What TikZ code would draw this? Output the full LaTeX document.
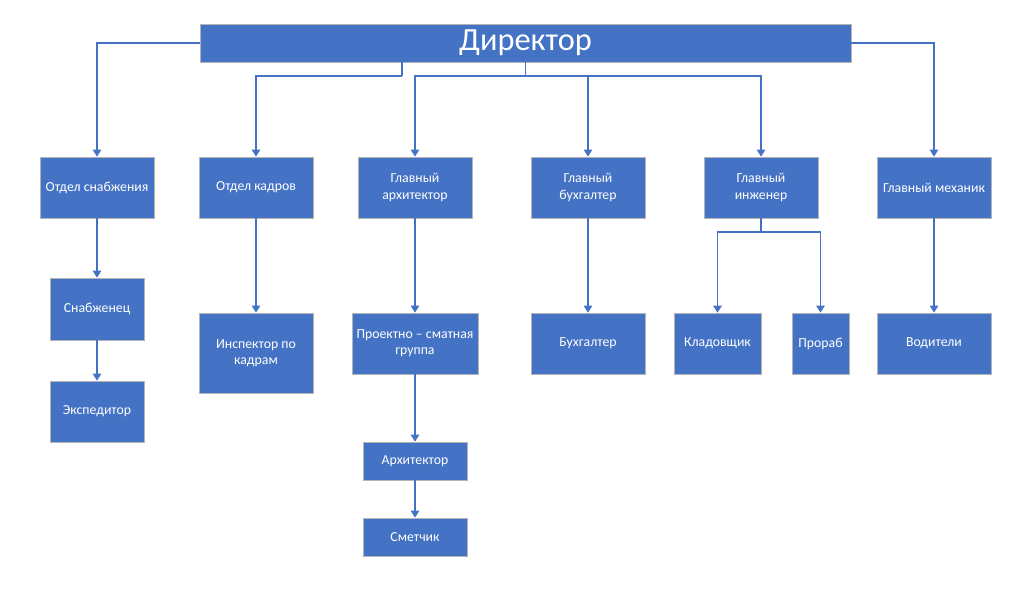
\documentclass[tikz,border=0pt]{standalone}
\usepackage{fontspec}
\setmainfont{Carlito}
\usepackage{tikz}
\usetikzlibrary{arrows.meta,positioning}
\definecolor{colorbox}{HTML}{4472C4}
\definecolor{colorrim}{HTML}{B4B4B4}
\tikzstyle{post}=[rectangle, draw=colorrim, line width=0.5pt, fill=colorbox, text=white, inner sep=1pt, align=center, font=\fontsize{9.8}{11.5}\selectfont]
\tikzstyle{link}=[draw=colorbox, line width=1pt]
\tikzset{postsize/.style 2 args={minimum width=#1cm, minimum height=#2cm}}

\begin{document}
\begin{tikzpicture}[x=0.025cm, y=-0.025cm, >={Triangle[width=6pt,length=5pt]}, ->]
	\useasboundingbox (0,0) rectangle (1023,595);
	
	\node[post, postsize={16.275}{0.95}, font=\fontsize{23}{26}\selectfont] at (525.5, 43) (dir) {Директор};
	
	% first row
	\node[post, postsize={2.85}{1.525}] at (97, 187.5) (snabotd) {Отдел снабжения};
	\node[post, postsize={2.85}{1.525}] at (256, 187.5) (kadr) {Отдел кадров};
	\node[post, postsize={2.85}{1.525}] at (415, 187.5) (garch) {Главный\\архитектор};
	\node[post, postsize={2.85}{1.525}] at (588, 187.5) (gbuh) {Главный\\бухгалтер};
	\node[post, postsize={2.85}{1.525}] at (761, 187.5) (ging) {Главный\\инженер};
	\node[post, postsize={2.85}{1.525}] at (934, 187.5) (gmech) {Главный механик};
	
	% second row
	\node[post, postsize={2.35}{1.55}] at (97, 309) (snab) {Снабженец};
	\node[post, postsize={2.35}{1.525}] at (97, 411.5) (exped) {Экспедитор};
	\node[post, postsize={2.85}{2.0}] at (256, 353) (insp) {Инспектор по\\кадрам};
	\node[post, postsize={3.15}{1.525}] at (415, 343.5) (proj) {Проектно -- сматная\\группа};
	\node[post, postsize={2.6}{0.95}] at (415, 461) (arch) {Архитектор};
	\node[post, postsize={2.6}{0.95}] at (415, 537) (smet) {Сметчик};
	\node[post, postsize={2.85}{1.525}] at (588, 343.5) (buh) {Бухгалтер};
	\node[post, postsize={2.175}{1.525}] at (717.5, 343.5) (klad) {Кладовщик};
	\node[post, postsize={1.425}{1.525}] at (820.5, 343.5) (pror) {Прораб};
	\node[post, postsize={2.85}{1.525}] at (934, 343.5) (vod) {Водители};
	
	\coordinate (b1) at (402, 76);
	\coordinate (b2) at (525.5, 76);
	\coordinate (b3) at (761, 232);
	
	\draw[link] (dir.west) -| (snabotd.north);
	\draw[link] (dir.east) -| (gmech.north);
	\draw[link, -] (dir.south -| b1) -- (b1);
	\draw[link] (b1) -| (kadr.north);
	\draw[link, -] (dir.south) -- (b2);
	\draw[link] (b2) -| (garch.north);
	\draw[link] (b2) -| (gbuh.north);
	\draw[link] (b2) -| (ging.north);
	
	\draw[link] (snabotd) -- (snab);
	\draw[link] (snab) -- (exped);
	\draw[link] (kadr) -- (insp);
	\draw[link] (garch) -- (proj);
	\draw[link] (proj) -- (arch);
	\draw[link] (arch) -- (smet);
	\draw[link] (gbuh) -- (buh);
	\draw[link, -] (ging.south) -- (b3);
	\draw[link] (b3) -| (klad.north);
	\draw[link] (b3) -| (pror.north);
	\draw[link] (gmech) -- (vod);
	
\end{tikzpicture}
\end{document}
